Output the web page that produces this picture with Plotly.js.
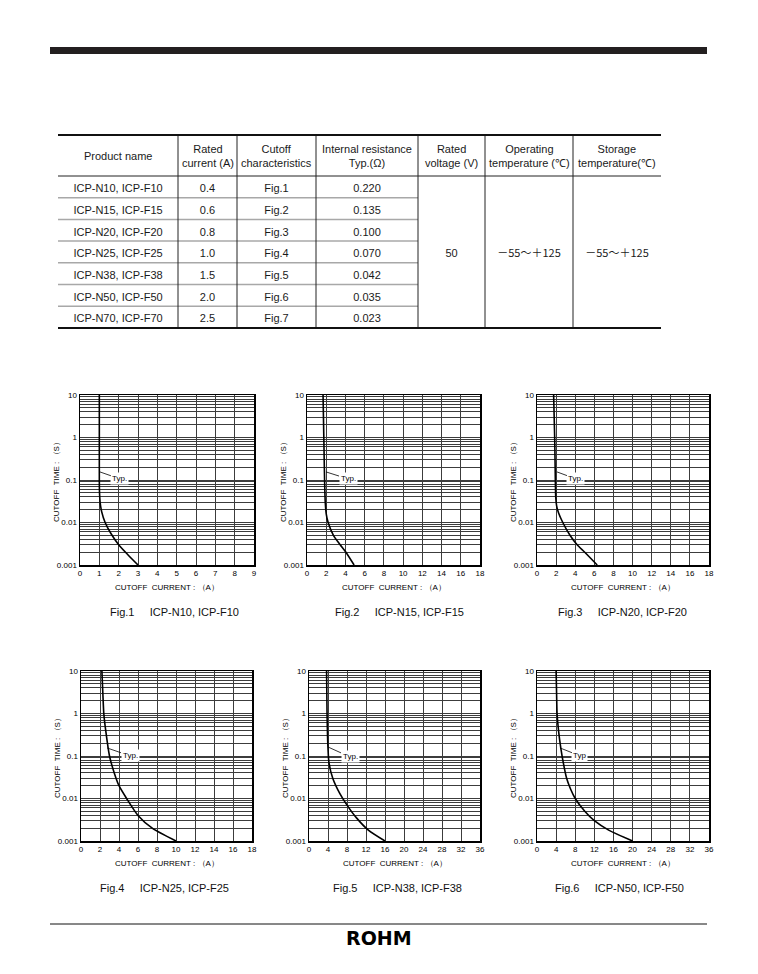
<!DOCTYPE html>
<html><head><meta charset="utf-8">
<script src="https://cdn.plot.ly/plotly-3.0.1.min.js"></script>
<style>html,body{margin:0;padding:0;background:#fff}#chart{width:758px;height:974px}</style>
</head><body><div id="chart"></div>
<script>
// ---------------- table data ----------------
const tableHeaders = ["Product name","Rated<br>current (A)","Cutoff<br>characteristics","Internal resistance<br>Typ.(Ω)","Rated<br>voltage (V)","Operating<br>temperature (℃)","Storage<br>temperature(℃)"];
const productNames = ["ICP-N10, ICP-F10","ICP-N15, ICP-F15","ICP-N20, ICP-F20","ICP-N25, ICP-F25","ICP-N38, ICP-F38","ICP-N50, ICP-F50","ICP-N70, ICP-F70"];
const ratedCurrent = ["0.4","0.6","0.8","1.0","1.5","2.0","2.5"];
const cutoffFig = ["Fig.1","Fig.2","Fig.3","Fig.4","Fig.5","Fig.6","Fig.7"];
const internalRes = ["0.220","0.135","0.100","0.070","0.042","0.035","0.023"];
const ratedVoltage = ["","","","50","","",""];
const opTemp = ["","","","－55～＋125","","",""];
const storageTemp = ["","","","－55～＋125","","",""];

// ---------------- chart data ----------------
const fig1Current = [1.0,1.0,1.0,1.01,1.04,1.12,1.3,1.6,2.0,2.5,3.0];
const fig1Time    = [10,1,0.1,0.05,0.03,0.018,0.01,0.0055,0.003,0.0017,0.001];
const fig2Current = [1.67,1.75,1.83,1.9,2.0,2.2,2.75,3.45,4.05,4.9];
const fig2Time    = [10,1,0.1,0.03,0.016,0.01,0.005,0.003,0.002,0.001];
const fig3Current = [1.74,1.85,1.92,1.96,2.05,2.25,2.7,3.45,4.2,5.0,6.3];
const fig3Time    = [10,1,0.1,0.04,0.025,0.017,0.01,0.005,0.003,0.002,0.001];
const fig4Current = [2.2,2.3,2.4,2.6,3.0,3.5,4.0,4.8,6.0,7.5,10.0];
const fig4Time    = [10,3,1,0.4,0.1,0.04,0.02,0.01,0.004,0.002,0.001];
const fig5Current = [3.7,3.8,3.9,4.0,4.2,5.0,6.5,8.0,10,12.5,16];
const fig5Time    = [10,1,0.3,0.15,0.07,0.03,0.013,0.007,0.0035,0.0018,0.001];
const fig6Current = [4.0,4.1,4.2,4.5,5.0,5.5,6.2,7.0,8.0,10,12,15,20];
const fig6Time    = [10,3,1,0.4,0.15,0.07,0.03,0.017,0.01,0.005,0.003,0.0018,0.001];

const figCaptions = ["Fig.1","Fig.2","Fig.3","Fig.4","Fig.5","Fig.6"];
const figProducts = ["ICP-N10, ICP-F10","ICP-N15, ICP-F15","ICP-N20, ICP-F20","ICP-N25, ICP-F25","ICP-N38, ICP-F38","ICP-N50, ICP-F50"];
const typLabels = ["Typ.","Typ.","Typ.","Typ.","Typ.","Typ"];
const typCurrent = [1.03,1.98,2.09,2.74,4.0,4.81];
const typTime = [0.155,0.155,0.155,0.155,0.163,0.155];
const xMax = [9,18,18,18,36,36];
const xStep = [1,2,2,2,4,4];
const yTickLabels = ["0.001","0.01","0.1","1","10"];
const xTitle = "CUTOFF\u00a0\u00a0CURRENT\u00a0:\u00a0（A）";
const yTitle = "CUTOFF\u00a0\u00a0TIME\u00a0:\u00a0（S）";

const currents = [fig1Current,fig2Current,fig3Current,fig4Current,fig5Current,fig6Current];
const times = [fig1Time,fig2Time,fig3Time,fig4Time,fig5Time,fig6Time];

// ---------------- geometry ----------------
const W = 758, H = 974;
const px = x => x / W, py = y => 1 - y / H;
const FONT = "Liberation Sans, Arial, sans-serif";
const CJK = "Noto Sans CJK JP, sans-serif";
const GRID = "#3c3c3c";
const panels = [
  {x0:80, x1:254, y0:395, y1:565, cx:108, cy:612, typ:[20,7]},
  {x0:307,x1:480, y0:395, y1:565, cx:333, cy:612, typ:[22,7]},
  {x0:537,x1:709, y0:395, y1:565, cx:556, cy:612, typ:[19,7]},
  {x0:81, x1:252, y0:671, y1:841, cx:98,  cy:888, typ:[23,8]},
  {x0:309,x1:480, y0:671, y1:841, cx:331, cy:888, typ:[22,10]},
  {x0:537,x1:709, y0:671, y1:841, cx:553, cy:888, typ:[20,8]}
];

// y grid values (decades and their multiples)
const yGridVals = [], yGridText = [];
yTickLabels.forEach((lab, i) => {
  const dec = parseFloat(lab);
  const mults = i < yTickLabels.length - 1 ? [1,2,3,4,5,6,7,8,9] : [1];
  mults.forEach(m => { yGridVals.push(dec * m); yGridText.push(m === 1 ? lab : ""); });
});

const traces = [];
const layout = {
  width: W, height: H, margin: {l:0,r:0,t:0,b:0},
  paper_bgcolor: "#fff", plot_bgcolor: "#fff",
  showlegend: false, font: {family: FONT, color: "#000"},
  shapes: [], annotations: []
};

// ---------------- table ----------------
const colW = [120,59,79,102,67,88,88];
const tableLeft = 58, tableTop = 135, headerH = 41, rowH = 21.7;
const tableRight = tableLeft + colW.reduce((a,b)=>a+b,0);
const tableBottom = tableTop + headerH + rowH * productNames.length;
traces.push({
  type: "table",
  domain: {x: [px(tableLeft), px(tableRight)], y: [py(tableBottom + 3), py(tableTop)]},
  columnwidth: colW,
  header: {values: tableHeaders.map(() => ""), height: headerH, align: "center",
           fill: {color: "#fff"}, line: {color: "#fff", width: 0},
           font: {family: FONT, size: 11, color: "#222"}},
  cells: {values: [productNames, ratedCurrent, cutoffFig, internalRes, ratedVoltage, opTemp, storageTemp],
          height: rowH, align: "center",
          fill: {color: "#fff"}, line: {color: "#fff", width: 0},
          font: {family: [FONT, FONT, FONT, FONT, FONT, CJK, CJK], size: 11, color: "#1a1a1a"}}
});
// header labels, centred in each column
let hx = tableLeft;
tableHeaders.forEach((h, c) => {
  layout.annotations.push({xref:"paper", yref:"paper", x: px(hx + colW[c] / 2), y: py(tableTop + headerH / 2 + 1),
    xanchor:"center", yanchor:"middle", align:"center", showarrow:false, text: h,
    font:{family: FONT, size: 11, color: "#1a1a1a"}});
  hx += colW[c];
});
const lineShape = (x0,y0,x1,y1,color,width) => ({type:"line", xref:"paper", yref:"paper",
  x0:px(x0), x1:px(x1), y0:py(y0), y1:py(y1), line:{color, width}, layer:"above"});
// row separators (first four columns only)
const mergedLeft = tableLeft + colW[0] + colW[1] + colW[2] + colW[3];
for (let k = 1; k < productNames.length; k++) {
  const y = tableTop + headerH + rowH * k;
  layout.shapes.push(lineShape(tableLeft, y, mergedLeft, y, "#a8a8a8", 1.5));
}
// vertical column separators
let acc = tableLeft;
for (let c = 0; c < colW.length - 1; c++) {
  acc += colW[c];
  layout.shapes.push(lineShape(acc, tableTop, acc, tableBottom, "#222", 1));
}
layout.shapes.push(lineShape(tableLeft, tableTop + headerH, tableRight, tableTop + headerH, "#222", 1));
layout.shapes.push(lineShape(tableLeft, tableTop, tableRight, tableTop, "#111", 2));
layout.shapes.push(lineShape(tableLeft, tableBottom, tableRight, tableBottom, "#111", 2));

// top bar and bottom rule
layout.shapes.push({type:"rect", xref:"paper", yref:"paper", x0:px(50), x1:px(707), y0:py(54), y1:py(47),
  fillcolor:"#231f20", line:{width:0}});
layout.shapes.push(lineShape(50, 924, 707, 924, "#111", 1));
layout.annotations.push({xref:"paper", yref:"paper", x:px(379), y:py(938), xanchor:"center", yanchor:"middle",
  text:"<b>ROHM</b>", showarrow:false, font:{family:"DejaVu Sans", size:19, color:"#000"}});

// ---------------- charts ----------------
panels.forEach((p, i) => {
  const n = i + 1, sx = n === 1 ? "" : String(n);
  const xa = "x" + sx, ya = "y" + sx;
  traces.push({type:"scatter", mode:"lines", x: currents[i], y: times[i], xaxis: xa, yaxis: ya,
    line: {color:"#000", width:1.6, shape:"spline", smoothing:0.7}, hoverinfo:"skip"});
  layout["xaxis" + sx] = {
    domain: [px(p.x0), px(p.x1)], anchor: ya, range: [0, xMax[i]], dtick: xStep[i], tick0: 0,
    showgrid: true, gridcolor: GRID, gridwidth: 1, zeroline: false,
    showline: true, mirror: true, linecolor: "#000", linewidth: 1.5, ticks: "",
    tickfont: {family: FONT, size: 8, color: "#000"}, fixedrange: true
  };
  layout["yaxis" + sx] = {
    domain: [py(p.y1), py(p.y0)], anchor: xa, type: "log", range: [-3, 1],
    tickmode: "array", tickvals: yGridVals, ticktext: yGridText,
    showgrid: true, gridcolor: GRID, gridwidth: 1, zeroline: false,
    showline: true, mirror: true, linecolor: "#000", linewidth: 1.5, ticks: "",
    tickfont: {family: FONT, size: 8, color: "#000"}, fixedrange: true
  };
  // axis titles
  layout.annotations.push({xref: xa + " domain", yref: ya + " domain", x: 0.5, y: 0, yshift: -22,
    xanchor: "center", yanchor: "middle", text: xTitle, showarrow: false,
    font: {family: FONT, size: 8, color: "#000"}});
  layout.annotations.push({xref: xa + " domain", yref: ya + " domain", x: 0, y: 0.5, xshift: -24,
    xanchor: "center", yanchor: "middle", text: yTitle, textangle: -90, showarrow: false,
    font: {family: FONT, size: 8, color: "#000"}});
  // Typ. label
  layout.annotations.push({xref: xa, yref: ya, x: typCurrent[i], y: Math.log10(typTime[i]),
    text: typLabels[i], showarrow: true, arrowhead: 0, arrowwidth: 0.8, arrowcolor: "#000",
    ax: p.typ[0], ay: p.typ[1], standoff: 0, bgcolor: "#fff", borderpad: 1,
    font: {family: FONT, size: 8, color: "#000"}});
  // caption
  layout.annotations.push({xref: "paper", yref: "paper", x: px(p.cx), y: py(p.cy),
    xanchor: "left", yanchor: "middle", showarrow: false,
    text: figCaptions[i] + "\u00a0\u00a0\u00a0\u00a0\u00a0" + figProducts[i],
    font: {family: FONT, size: 11, color: "#111"}});
});

Plotly.newPlot("chart", traces, layout, {displayModeBar: false, staticPlot: true});
</script>
</body></html>
